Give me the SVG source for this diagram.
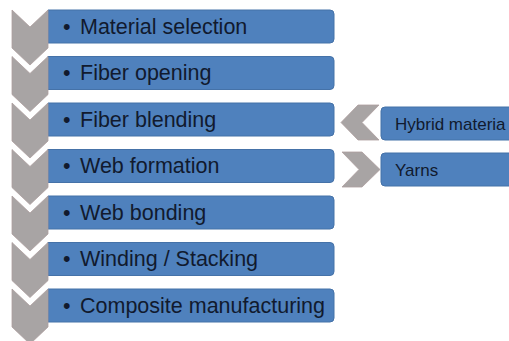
<svg xmlns="http://www.w3.org/2000/svg" width="509" height="341" viewBox="0 0 509 341">
<defs>
<style>
.chev{fill:#a8a4a4;stroke:#ad9e9e;stroke-width:0.8;stroke-linejoin:miter}
.box{fill:#4f81bd;stroke:#4572a8;stroke-width:1}
.t{font-family:"Liberation Sans",Arial,sans-serif;font-size:21.5px;fill:#111a2e}
.s{font-family:"Liberation Sans",Arial,sans-serif;font-size:17px;fill:#111a2e}
</style>
<path id="vchev" d="M12,0 L30,17 L48,0 L48,38 L30,55 L12,38 Z"/>
<path id="vbox" d="M48,0 H330 A4,4 0 0 1 334,4 V29 A4,4 0 0 1 330,33 H48 Z"/>
</defs>
<rect width="509" height="341" fill="#ffffff"/>
<g id="step1" transform="translate(0,10)">
<use href="#vbox" class="box"/><use href="#vchev" class="chev"/>
<text class="t" y="23.5"><tspan x="63">•</tspan><tspan x="80">Material selection</tspan></text>
</g>
<g id="step2" transform="translate(0,56.5)">
<use href="#vbox" class="box"/><use href="#vchev" class="chev"/>
<text class="t" y="23.5"><tspan x="63">•</tspan><tspan x="80">Fiber opening</tspan></text>
</g>
<g id="step3" transform="translate(0,103)">
<use href="#vbox" class="box"/><use href="#vchev" class="chev"/>
<text class="t" y="23.5"><tspan x="63">•</tspan><tspan x="80">Fiber blending</tspan></text>
</g>
<g id="step4" transform="translate(0,149.5)">
<use href="#vbox" class="box"/><use href="#vchev" class="chev"/>
<text class="t" y="23.5"><tspan x="63">•</tspan><tspan x="80">Web formation</tspan></text>
</g>
<g id="step5" transform="translate(0,196)">
<use href="#vbox" class="box"/><use href="#vchev" class="chev"/>
<text class="t" y="23.5"><tspan x="63">•</tspan><tspan x="80">Web bonding</tspan></text>
</g>
<g id="step6" transform="translate(0,242.5)">
<use href="#vbox" class="box"/><use href="#vchev" class="chev"/>
<text class="t" y="23.5"><tspan x="63">•</tspan><tspan x="80">Winding / Stacking</tspan></text>
</g>
<g id="step7" transform="translate(0,289)">
<use href="#vbox" class="box"/><use href="#vchev" class="chev"/>
<text class="t" y="23.5"><tspan x="63">•</tspan><tspan x="80">Composite manufacturing</tspan></text>
</g>
<g id="connectors">
<path class="chev" d="M341,122.5 L358,105 L379,105 L362,122.5 L379,140 L358,140 Z"/>
<path class="chev" d="M342,152 L362,152 L380,169.5 L362,187 L342,187 L359,169.5 Z"/>
</g>
<g id="hybrid">
<rect class="box" x="381" y="107" width="140" height="33" rx="4"/>
<text class="s" x="395" y="129.5" font-size="16.8">Hybrid materia</text>
</g>
<g id="yarns">
<rect class="box" x="381" y="153" width="140" height="33" rx="4"/>
<text class="s" x="395" y="175.5">Yarns</text>
</g>
</svg>
